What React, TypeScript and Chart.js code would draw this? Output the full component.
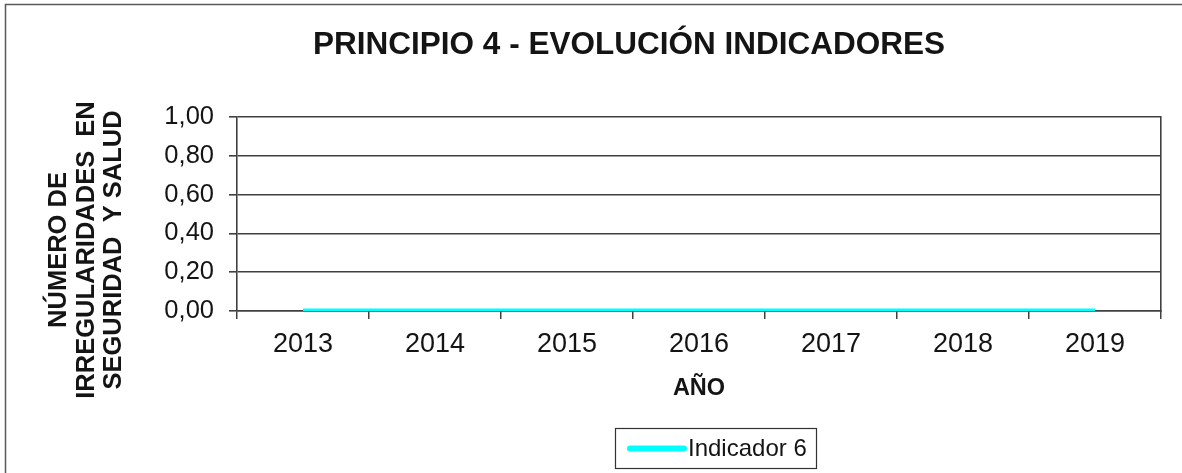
import React, { useEffect, useRef } from "react";
import { Chart, registerables } from "chart.js";

Chart.register(...registerables);

const years = ["2013", "2014", "2015", "2016", "2017", "2018", "2019"];
const indicador6 = [0, 0, 0, 0, 0, 0, 0];
const yTicks = [0, 0.2, 0.4, 0.6, 0.8, 1.0];
const chartTitle = "PRINCIPIO 4 - EVOLUCIÓN INDICADORES";
const yTitleLines = ["NÚMERO DE", "IRREGULARIDADES  EN", "SEGURIDAD  Y SALUD"];
const xTitle = "AÑO";
const seriesName = "Indicador 6";

const FONT = "'Liberation Sans', Arial, Helvetica, sans-serif";
const AXIS = "#404040";
const TEXT = "#141414";

const decorPlugin = {
  id: "decor",
  beforeDraw(chart: any) {
    const ctx = chart.ctx;
    ctx.save();
    ctx.fillStyle = "#ffffff";
    ctx.fillRect(0, 0, chart.width, chart.height);
    ctx.strokeStyle = "#5a5a5a";
    ctx.lineWidth = 1.5;
    ctx.beginPath();
    ctx.moveTo(5.5, chart.height);
    ctx.lineTo(5.5, 4.5);
    ctx.lineTo(chart.width, 4.5);
    ctx.stroke();
    ctx.restore();
  },
  afterDraw(chart: any) {
    const ctx = chart.ctx;
    ctx.save();
    // rotated y-axis title (three lines)
    ctx.font = `bold 25.5px ${FONT}`;
    ctx.fillStyle = TEXT;
    ctx.textAlign = "center";
    ctx.textBaseline = "middle";
    const cy = 250;
    const xs = [59, 86.5, 114];
    yTitleLines.forEach((t, i) => {
      ctx.save();
      ctx.translate(xs[i], cy);
      ctx.rotate(-Math.PI / 2);
      ctx.fillText(t, 0, 0);
      ctx.restore();
    });
    // legend box
    const ds = chart.data.datasets[0];
    ctx.strokeStyle = "#333333";
    ctx.lineWidth = 1.2;
    ctx.strokeRect(615.5, 428.5, 201, 40);
    ctx.strokeStyle = ds.borderColor;
    ctx.lineWidth = 6;
    ctx.lineCap = "round";
    ctx.beginPath();
    ctx.moveTo(630, 448.5);
    ctx.lineTo(684, 448.5);
    ctx.stroke();
    ctx.font = `24px ${FONT}`;
    ctx.fillStyle = TEXT;
    ctx.textAlign = "left";
    ctx.textBaseline = "middle";
    ctx.fillText(ds.label, 688, 449);
    ctx.restore();
  },
};

export default function App() {
  const canvasRef = useRef<HTMLCanvasElement | null>(null);

  useEffect(() => {
    const canvas = canvasRef.current;
    if (!canvas) return;
    const chart = new Chart(canvas, {
      type: "line",
      data: {
        labels: years,
        datasets: [
          {
            label: seriesName,
            data: indicador6,
            borderColor: "#00FFFF",
            backgroundColor: "#00FFFF",
            borderWidth: 5,
            pointRadius: 0,
            pointHoverRadius: 0,
            tension: 0,
            yAxisID: "y",
          },
        ],
      },
      options: {
        responsive: false,
        animation: false,
        layout: { padding: { left: 97, right: 21, top: 0, bottom: 70 } },
        plugins: {
          legend: { display: false },
          tooltip: { enabled: false },
          title: {
            display: true,
            text: chartTitle,
            font: { family: FONT, size: 31.5, weight: "bold" },
            color: TEXT,
            padding: { top: 26, bottom: 53.2 },
          },
        },
        scales: {
          x: {
            type: "category",
            offset: true,
            grid: {
              display: true,
              offset: true,
              drawOnChartArea: false,
              drawTicks: true,
              tickLength: 8,
              color: AXIS,
              lineWidth: 1.5,
            },
            border: { display: true, color: AXIS, width: 1.5 },
            ticks: {
              font: { family: FONT, size: 27 },
              color: TEXT,
              padding: 9,
              maxRotation: 0,
              autoSkip: false,
            },
            title: {
              display: true,
              text: xTitle,
              font: { family: FONT, size: 23.5, weight: "bold" },
              color: TEXT,
              padding: { top: 0, bottom: 0 },
            },
            afterFit(s: any) {
              s.height = 92;
            },
          },
          y: {
            min: 0,
            max: 1,
            afterBuildTicks(s: any) {
              s.ticks = yTicks.map((v) => ({ value: v }));
            },
            ticks: {
              callback: (v: any) => Number(v).toFixed(2).replace(".", ","),
              font: { family: FONT, size: 25.5 },
              color: TEXT,
              padding: 15,
            },
            grid: { color: AXIS, lineWidth: 1.6, tickLength: 8, drawTicks: true },
            border: { display: true, color: AXIS, width: 1.6 },
            afterFit(s: any) {
              s.width = 140;
            },
          },
          y2: {
            position: "right",
            min: 0,
            max: 1,
            ticks: { display: false },
            grid: { display: false, drawTicks: false },
            border: { display: true, color: AXIS, width: 1.6 },
            afterFit(s: any) {
              s.width = 0;
            },
          },
        },
      } as any,
      plugins: [decorPlugin],
    });
    return () => chart.destroy();
  }, []);

  return (
    <div style={{ position: "absolute", left: 0, top: 0, width: 1182, height: 473 }}>
      <canvas ref={canvasRef} width={1182} height={473} style={{ display: "block" }} />
    </div>
  );
}
